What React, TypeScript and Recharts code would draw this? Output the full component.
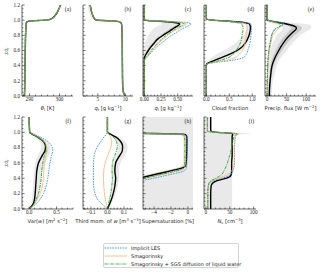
import type { ReactNode } from 'react'
import { ComposedChart, Line, Area, XAxis, YAxis } from 'recharts'

// z / z_i ticks shared by every panel
const zMajor = [0, 0.2, 0.4, 0.6, 0.8, 1.0, 1.2]

// (a) theta_l and (b) q_t
const zAB = [0, 0.03, 0.1, 0.2, 0.4, 0.6, 0.8, 0.9, 0.95, 0.97, 0.98, 0.99, 0.995, 1.0, 1.01, 1.03, 1.06, 1.1, 1.15, 1.2]
const thlRef = [288.3, 288.35, 288.4, 288.45, 288.5, 288.6, 288.7, 288.8, 288.9, 289.0, 289.3, 290.5, 293.0, 295.5, 296.8, 297.8, 298.5, 299.2, 299.8, 300.4]
const thlIles = [288.2, 288.25, 288.3, 288.35, 288.4, 288.5, 288.6, 288.7, 288.8, 288.9, 289.2, 290.2, 292.6, 295.2, 296.7, 297.8, 298.5, 299.2, 299.8, 300.4]
const thlSmag = [288.3, 288.35, 288.4, 288.45, 288.5, 288.6, 288.7, 288.8, 288.9, 289.0, 289.3, 290.4, 292.8, 295.4, 296.8, 297.8, 298.5, 299.2, 299.8, 300.4]
const thlSgs = [288.3, 288.35, 288.4, 288.45, 288.5, 288.6, 288.7, 288.8, 288.9, 289.0, 289.2, 290.3, 292.8, 295.4, 296.8, 297.8, 298.5, 299.2, 299.8, 300.4]

const qtRef = [10.0, 9.75, 9.55, 9.5, 9.47, 9.45, 9.42, 9.38, 9.3, 9.15, 8.8, 7.5, 6.0, 4.9, 4.5, 4.3, 4.1, 3.9, 3.75, 3.6]
const qtIles = [10.05, 9.8, 9.6, 9.55, 9.52, 9.5, 9.47, 9.43, 9.35, 9.2, 8.9, 7.8, 6.3, 5.0, 4.5, 4.3, 4.1, 3.9, 3.75, 3.6]
const qtSmag = [10.0, 9.75, 9.55, 9.5, 9.47, 9.45, 9.42, 9.38, 9.3, 9.15, 8.85, 7.6, 6.1, 4.95, 4.5, 4.3, 4.1, 3.9, 3.75, 3.6]
const qtSgs = [10.0, 9.75, 9.55, 9.5, 9.47, 9.45, 9.42, 9.38, 9.3, 9.15, 8.85, 7.6, 6.1, 4.95, 4.5, 4.3, 4.1, 3.9, 3.75, 3.6]
const qtShadeLo = [10.0, 9.75, 9.55, 9.5, 9.47, 9.45, 9.42, 9.38, 9.3, 9.15, 8.8, 7.5, 6.0, 4.8, 4.3, 3.9, 3.6, 3.4, 3.25, 3.15]

// (c) q_l
const zC = [0, 0.45, 0.47, 0.5, 0.55, 0.6, 0.65, 0.7, 0.75, 0.8, 0.85, 0.9, 0.93, 0.95, 0.97, 0.985, 1.0, 1.2]
const qlRef = [0, 0, 0, 0, 0.025, 0.06, 0.1, 0.15, 0.2, 0.28, 0.37, 0.45, 0.51, 0.53, 0.45, 0.25, 0, 0]
const qlIles = [0, 0, 0, 0.03, 0.08, 0.13, 0.19, 0.26, 0.33, 0.41, 0.5, 0.6, 0.67, 0.7, 0.62, 0.35, 0, 0]
const qlSmag = [0, 0, 0, 0.02, 0.07, 0.11, 0.16, 0.22, 0.28, 0.35, 0.43, 0.53, 0.6, 0.63, 0.56, 0.3, 0, 0]
const qlSgs = [0, 0, 0, 0.015, 0.06, 0.1, 0.15, 0.2, 0.26, 0.33, 0.41, 0.5, 0.57, 0.6, 0.5, 0.28, 0, 0]
const qlLightLo = [0, 0, 0, 0, 0, 0, 0, 0.01, 0.03, 0.06, 0.1, 0.16, 0.22, 0.26, 0.22, 0.1, 0, 0]
const qlLightHi = [0, 0, 0, 0.01, 0.04, 0.08, 0.12, 0.17, 0.23, 0.31, 0.4, 0.48, 0.54, 0.56, 0.48, 0.3, 0, 0]
const qlDarkLo = [0, 0, 0, 0, 0.01, 0.04, 0.075, 0.12, 0.165, 0.24, 0.32, 0.4, 0.46, 0.49, 0.4, 0.2, 0, 0]
const qlDarkHi = [0, 0, 0, 0.005, 0.035, 0.075, 0.115, 0.165, 0.215, 0.3, 0.39, 0.47, 0.53, 0.55, 0.47, 0.28, 0, 0]

// (d) cloud fraction
const zD = [0, 0.38, 0.41, 0.43, 0.45, 0.47, 0.5, 0.55, 0.6, 0.65, 0.7, 0.8, 0.9, 0.95, 0.98, 1.0, 1.02, 1.2]
const cfRef = [0, 0, 0, 0.03, 0.1, 0.18, 0.3, 0.5, 0.67, 0.78, 0.85, 0.93, 0.96, 0.94, 0.65, 0.15, 0, 0]
const cfIles = [0, 0, 0, 0.06, 0.3, 0.55, 0.78, 0.87, 0.9, 0.93, 0.95, 0.97, 0.98, 0.96, 0.65, 0.15, 0, 0]
const cfSmag = [0, 0, 0, 0.05, 0.22, 0.42, 0.6, 0.72, 0.79, 0.82, 0.84, 0.87, 0.89, 0.86, 0.55, 0.12, 0, 0]
const cfSgs = [0, 0, 0, 0.04, 0.16, 0.3, 0.46, 0.58, 0.65, 0.7, 0.74, 0.78, 0.8, 0.77, 0.5, 0.1, 0, 0]
const cfShadeLo = [0, 0, 0, 0, 0.02, 0.05, 0.1, 0.22, 0.38, 0.52, 0.64, 0.8, 0.88, 0.86, 0.5, 0.08, 0, 0]
const cfShadeHi = [0, 0, 0, 0.06, 0.18, 0.3, 0.45, 0.62, 0.76, 0.85, 0.9, 0.97, 0.99, 0.98, 0.75, 0.22, 0, 0]

// (e) precipitation flux
const zE = [0, 0.1, 0.2, 0.3, 0.4, 0.5, 0.6, 0.7, 0.75, 0.8, 0.85, 0.88, 0.9, 0.93, 0.95, 0.97, 0.99, 1.01, 1.2]
const pfRef = [6, 6.5, 8, 10, 13, 20, 30, 42, 49, 58, 68, 74, 75, 65, 50, 28, 8, 0, 0]
const pfIles = [0.5, 0.7, 1, 1.5, 2, 3, 5, 8, 10, 12, 16, 20, 26, 37, 43, 35, 10, 0, 0]
const pfSmag = [0.5, 0.7, 1, 1.5, 2.5, 4, 6, 10, 12, 15, 22, 28, 31, 33, 30, 22, 7, 0, 0]
const pfSgs = [0.5, 0.7, 1, 1.5, 2, 3, 5, 8, 10, 12, 16, 21, 27, 37, 42, 34, 10, 0, 0]
const pfLightLo = [2, 2, 2.5, 3, 3, 5, 8, 15, 20, 25, 35, 40, 40, 30, 20, 5, 0, 0, 0]
const pfLightHi = [12, 13, 15, 20, 25, 35, 50, 65, 75, 85, 100, 110, 113, 112, 100, 60, 20, 0, 0]
const pfDarkLo = [4, 4.5, 5.5, 7, 9, 14, 22, 32, 38, 46, 55, 60, 61, 52, 38, 18, 4, 0, 0]
const pfDarkHi = [8, 8.5, 10.5, 13, 17, 26, 38, 52, 60, 70, 82, 88, 89, 80, 64, 40, 12, 0, 0]

// (f) Var(w) and (g) third moment of w
const zFG = [0, 0.05, 0.1, 0.2, 0.3, 0.4, 0.5, 0.6, 0.7, 0.76, 0.82, 0.88, 0.94, 0.98, 1.0, 1.2]
const vwRef = [0, 0.06, 0.09, 0.11, 0.12, 0.13, 0.14, 0.17, 0.24, 0.29, 0.3, 0.26, 0.15, 0.05, 0.01, 0]
const vwIles = [0, 0.1, 0.17, 0.26, 0.31, 0.34, 0.36, 0.38, 0.41, 0.43, 0.41, 0.34, 0.2, 0.07, 0.01, 0]
const vwSmag = [0, 0.08, 0.13, 0.2, 0.24, 0.26, 0.27, 0.28, 0.31, 0.33, 0.32, 0.27, 0.16, 0.06, 0.01, 0]
const vwSgs = [0, 0.07, 0.11, 0.17, 0.2, 0.22, 0.23, 0.25, 0.28, 0.31, 0.3, 0.25, 0.14, 0.05, 0.01, 0]
const vwShadeLo = [0, 0.03, 0.05, 0.06, 0.07, 0.08, 0.09, 0.11, 0.16, 0.2, 0.22, 0.19, 0.1, 0.03, 0, 0]
const vwShadeHi = [0, 0.1, 0.14, 0.18, 0.2, 0.22, 0.25, 0.3, 0.36, 0.39, 0.38, 0.33, 0.2, 0.08, 0.01, 0]

const w3Ref = [0, 0.01, 0.02, 0.035, 0.045, 0.05, 0.045, 0.05, 0.075, 0.09, 0.092, 0.08, 0.05, 0.015, 0, 0]
const w3Iles = [0, -0.025, -0.05, -0.075, -0.083, -0.085, -0.085, -0.084, -0.08, -0.072, -0.058, -0.04, -0.02, -0.005, 0, 0]
const w3Smag = [0, -0.005, -0.01, -0.018, -0.022, -0.024, -0.022, -0.014, 0.002, 0.013, 0.023, 0.025, 0.018, 0.005, 0, 0]
const w3Sgs = [0, 0.005, 0.01, 0.02, 0.026, 0.03, 0.028, 0.03, 0.045, 0.055, 0.06, 0.055, 0.035, 0.01, 0, 0]
const w3ShadeLo = [0, 0.003, 0.008, 0.018, 0.025, 0.028, 0.025, 0.03, 0.05, 0.062, 0.065, 0.055, 0.03, 0.008, 0, 0]
const w3ShadeHi = [0, 0.018, 0.032, 0.05, 0.062, 0.07, 0.07, 0.08, 0.105, 0.12, 0.122, 0.108, 0.07, 0.022, 0, 0]

// (h) supersaturation (values past the left edge are clipped)
const zH = [0, 0.3, 0.34, 0.36, 0.38, 0.4, 0.42, 0.44, 0.46, 0.48, 0.5, 0.52, 0.54, 0.56, 0.6, 0.7, 0.8, 0.9, 0.95, 0.97, 0.975, 0.98, 0.985, 0.99, 1.0, 1.2]
const ssRef = [-9, -9, -9, -8.3, -7.5, -6.2, -5.0, -4.25, -3.5, -2.7, -1.95, -1.2, -0.55, -0.28, -0.2, -0.15, -0.13, -0.12, -0.15, -0.3, -0.6, -1.5, -4, -9, -9, -9]
const ssIles = [-9, -9, -7.6, -6.2, -5.0, -4.1, -3.3, -2.5, -1.7, -0.9, -0.4, -0.22, -0.17, -0.15, -0.13, -0.12, -0.12, -0.12, -0.15, -0.5, -1.5, -4, -9, -9, -9, -9]
const ssSmag = [-9, -9, -8.5, -7.2, -6.0, -5.1, -4.3, -3.5, -2.7, -1.9, -1.15, -0.6, -0.4, -0.35, -0.32, -0.3, -0.3, -0.3, -0.33, -0.5, -0.9, -2.2, -5, -9, -9, -9]
const ssSgs = [-9, -9, -8.7, -7.4, -6.2, -5.2, -4.4, -3.6, -2.8, -2.0, -1.25, -0.7, -0.45, -0.4, -0.38, -0.36, -0.36, -0.37, -0.45, -0.7, -1.2, -3, -7, -9, -9, -9]
const ssShadeLo = [-9, -9, -9, -9, -9, -7.5, -6.0, -5.2, -4.4, -3.6, -2.8, -2.0, -1.3, -0.8, -0.6, -0.55, -0.55, -0.55, -0.6, -0.9, -9, -9, -9, -9, -9, -9]
const ssShadeHi = [0.6, 0.6, 0.6, 0.6, 0.6, 0.6, 0.6, 0.6, 0.6, 0.6, 0.6, 0.6, 0.6, 0.6, 0.6, 0.6, 0.6, 0.6, 0.6, 0.6, 0.6, 0.6, 0.6, 0.6, 0.6, 0.6]
const ssShadowLo = [-9, -9, -9, -8.3, -7.5, -6.9, -5.9, -5.1, -4.3, -3.5, -2.7, -1.9, -1.1, -0.6, -0.35, -0.15, -0.13, -0.12, -0.15, -0.3, -0.6, -1.5, -4, -9, -9, -9]

// (i) droplet number
const zI = [0, 0.2, 0.3, 0.33, 0.36, 0.38, 0.4, 0.42, 0.45, 0.5, 0.55, 0.6, 0.7, 0.8, 0.9, 0.95, 0.97, 0.98, 0.99, 1.0, 1.01, 1.03, 1.2]
const ncRef = [10, 10, 11, 13, 20, 30, 42, 50, 53, 54, 54, 54, 55, 55, 55, 55, 56, 56, 50, 25, 12, 10, 10]
const ncIles = [4, 4, 5, 7, 12, 20, 32, 43, 52, 57, 59, 60, 60, 60, 61, 62, 66, 68, 55, 25, 5, 3, 3]
const ncSmag = [4, 4, 5, 6, 10, 16, 25, 35, 46, 54, 58, 59, 59, 59, 60, 61, 65, 67, 55, 25, 5, 3, 3]
const ncSgs = [4, 4, 5, 6, 9, 14, 20, 26, 33, 38, 42, 45, 50, 54, 57, 59, 63, 65, 52, 22, 4, 3, 3]
const ncShadeLo = [-4, -4, -4, -4, -4, -4, -4, -4, -4, -4, -4, -4, -4, -4, -4, -4, -4, -4, -4, -4, -4, -4, -4]
const ncShadeHi = [55, 55, 55, 55, 55, 55, 55, 55, 55, 55, 55, 55, 56, 56, 56, 57, 70, 94, 80, 40, 15, 12, 12]

const COL_LEFT = [22, 83, 143, 204, 265]
const COL_W = [51, 50, 50, 52, 51]
const ROW_TOP = [5, 117]
const ROW_H = [91, 92]

const LIGHT = '#e9e9e9'
const DARK = '#c9c9c9'
const SERIF = '"Liberation Serif", "DejaVu Serif", serif'
const SANS = '"DejaVu Sans", sans-serif'

const SERIES = [
  { key: 'ref', stroke: '#000000', width: 1.4, dash: undefined as string | undefined, name: '' },
  { key: 'iles', stroke: '#3b8fd5', width: 0.9, dash: '1.6 1', name: 'Implicit LES' },
  { key: 'smag', stroke: '#f7b27c', width: 0.8, dash: undefined, name: 'Smagorinsky' },
  { key: 'sgs', stroke: '#2ca02c', width: 0.9, dash: '3 1 1 1', name: 'Smagorinsky + SGS diffusion of liquid water' },
]

interface Band { lo: number[]; hi: number[]; fill: string }
interface PanelSpec {
  letter: string
  col: number
  row: number
  domain: [number, number]
  major: number[]
  minorStep: number
  fmt: (v: number) => string
  z: number[]
  ref: number[]
  iles: number[]
  smag: number[]
  sgs: number[]
  bands: Band[]
  label: ReactNode
  yLabels?: boolean
}

const steps = (lo: number, hi: number, step: number) => {
  const out: number[] = []
  for (let k = Math.ceil(lo / step - 1e-9); k * step <= hi + 1e-9; k++) out.push(Math.round(k * step * 1e6) / 1e6)
  return out
}
const sign = (v: number, s: string) => (v < -1e-9 ? '\u2212' : '') + s
const fmt0 = (v: number) => sign(v, String(Math.abs(v)))
const fmt1 = (v: number) => sign(v, Math.abs(v).toFixed(1))
const fmt2 = (v: number) => sign(v, Math.abs(v).toFixed(2))

const Sub = ({ children }: { children: ReactNode }) => (
  <span style={{ fontSize: '0.72em', position: 'relative', top: '0.3em' }}>{children}</span>
)
const Sup = ({ children }: { children: ReactNode }) => (
  <span style={{ fontSize: '0.72em', position: 'relative', top: '-0.4em' }}>{children}</span>
)

const PANELS: PanelSpec[] = [
  { letter: 'a', col: 0, row: 0, domain: [287.5, 304.5], major: [290, 300], minorStep: 2, fmt: fmt0, z: zAB, ref: thlRef, iles: thlIles, smag: thlSmag, sgs: thlSgs, bands: [], label: <><i>θ</i><Sub>l</Sub> [K]</>, yLabels: true },
  { letter: 'b', col: 1, row: 0, domain: [2.3, 11.4], major: [5, 10], minorStep: 1, fmt: fmt0, z: zAB, ref: qtRef, iles: qtIles, smag: qtSmag, sgs: qtSgs, bands: [{ lo: qtShadeLo, hi: qtRef, fill: LIGHT }], label: <><i>q</i><Sub>t</Sub> [g kg<Sup>−1</Sup>]</> },
  { letter: 'c', col: 2, row: 0, domain: [-0.02, 0.73], major: [0, 0.25, 0.5], minorStep: 0.05, fmt: fmt2, z: zC, ref: qlRef, iles: qlIles, smag: qlSmag, sgs: qlSgs, bands: [{ lo: qlLightLo, hi: qlLightHi, fill: LIGHT }, { lo: qlDarkLo, hi: qlDarkHi, fill: DARK }], label: <><i>q</i><Sub>l</Sub> [g kg<Sup>−1</Sup>]</> },
  { letter: 'd', col: 3, row: 0, domain: [-0.05, 1.08], major: [0, 0.5, 1], minorStep: 0.1, fmt: fmt1, z: zD, ref: cfRef, iles: cfIles, smag: cfSmag, sgs: cfSgs, bands: [{ lo: cfShadeLo, hi: cfShadeHi, fill: LIGHT }], label: <>Cloud fraction</> },
  { letter: 'e', col: 4, row: 0, domain: [-5, 125], major: [0, 50, 100], minorStep: 10, fmt: fmt0, z: zE, ref: pfRef, iles: pfIles, smag: pfSmag, sgs: pfSgs, bands: [{ lo: pfLightLo, hi: pfLightHi, fill: LIGHT }, { lo: pfDarkLo, hi: pfDarkHi, fill: DARK }], label: <>Precip. flux [W m<Sup>−2</Sup>]</> },
  { letter: 'f', col: 0, row: 1, domain: [-0.13, 0.8], major: [0, 0.5], minorStep: 0.1, fmt: fmt1, z: zFG, ref: vwRef, iles: vwIles, smag: vwSmag, sgs: vwSgs, bands: [{ lo: vwShadeLo, hi: vwShadeHi, fill: LIGHT }], label: <>Var(<i>w</i>) [m<Sup>2</Sup> s<Sup>−2</Sup>]</>, yLabels: true },
  { letter: 'g', col: 1, row: 1, domain: [-0.148, 0.155], major: [-0.1, 0, 0.1], minorStep: 0.02, fmt: fmt1, z: zFG, ref: w3Ref, iles: w3Iles, smag: w3Smag, sgs: w3Sgs, bands: [{ lo: w3ShadeLo, hi: w3ShadeHi, fill: LIGHT }], label: <>Third mom. of <i>w</i> [m<Sup>3</Sup> s<Sup>−3</Sup>]</> },
  { letter: 'h', col: 2, row: 1, domain: [-5.3, 0.6], major: [-4, -2, 0], minorStep: 0.5, fmt: fmt0, z: zH, ref: ssRef, iles: ssIles, smag: ssSmag, sgs: ssSgs, bands: [{ lo: ssShadeLo, hi: ssShadeHi, fill: LIGHT }, { lo: ssShadowLo, hi: ssRef, fill: '#d6d6d6' }], label: <>Supersaturation [%]</> },
  { letter: 'i', col: 3, row: 1, domain: [-4, 105], major: [0, 50, 100], minorStep: 10, fmt: fmt0, z: zI, ref: ncRef, iles: ncIles, smag: ncSmag, sgs: ncSgs, bands: [{ lo: ncShadeLo, hi: ncShadeHi, fill: LIGHT }], label: <><i>N</i><Sub>c</Sub> [cm<Sup>−3</Sup>]</> },
]

const isMajor = (v: number, majors: number[]) => majors.some(m => Math.abs(m - v) < 1e-6)

// inward mpl-style ticks drawn by hand, labels only on majors
function makeTick(side: 'bottom' | 'top' | 'left' | 'right', majors: number[], fmt: ((v: number) => string) | null) {
  return (props: any) => {
    const { x, y, payload } = props
    const v = payload.value as number
    const major = isMajor(v, majors)
    const len = major ? 2.6 : 1.4
    let x2 = x
    let y2 = y
    if (side === 'bottom') y2 = y - len
    else if (side === 'top') y2 = y + len
    else if (side === 'left') x2 = x + len
    else x2 = x - len
    return (
      <g>
        <line x1={x} y1={y} x2={x2} y2={y2} stroke="#222" strokeWidth={0.6} />
        {fmt && major && side === 'bottom' && (
          <text x={x} y={y + 5.4} textAnchor="middle" fontSize={5.2} fontFamily={SERIF} fill="#222">{fmt(v)}</text>
        )}
        {fmt && major && side === 'left' && (
          <text x={x - 2} y={y + 1.8} textAnchor="end" fontSize={5.2} fontFamily={SERIF} fill="#222">{fmt(v)}</text>
        )}
      </g>
    )
  }
}

const YW = 20
const MT = 4
const MR = 4
const XH = 12

function Panel({ p }: { p: PanelSpec }) {
  const left = COL_LEFT[p.col]
  const w = COL_W[p.col]
  const top = ROW_TOP[p.row]
  const h = ROW_H[p.row]
  const rows = p.z.map((z, i) => {
    const r: Record<string, any> = { z, ref: p.ref[i], iles: p.iles[i], smag: p.smag[i], sgs: p.sgs[i] }
    p.bands.forEach((b, k) => { r['b' + k] = [b.lo[i], b.hi[i]] })
    return r
  })
  const xTicks = steps(p.domain[0], p.domain[1], p.minorStep)
  const zTicks = steps(0, 1.2, 0.05)
  const axisLine = { stroke: '#222', strokeWidth: 0.7 }
  return (
    <>
      <div style={{ position: 'absolute', left: left - YW, top: top - MT }}>
        <ComposedChart layout="vertical" width={YW + w + MR} height={MT + h + XH} data={rows} margin={{ top: MT, right: MR, bottom: 0, left: 0 }}>
          <XAxis type="number" domain={p.domain} allowDataOverflow ticks={xTicks} interval={0} height={XH} tickSize={0} tickMargin={0} tickLine={false} axisLine={axisLine} tick={makeTick('bottom', p.major, p.fmt)} />
          <XAxis xAxisId="top" orientation="top" type="number" domain={p.domain} allowDataOverflow ticks={xTicks} interval={0} height={0} tickSize={0} tickMargin={0} tickLine={false} axisLine={axisLine} tick={makeTick('top', p.major, null)} />
          <YAxis type="number" dataKey="z" domain={[0, 1.2]} allowDataOverflow reversed ticks={zTicks} interval={0} width={YW} tickSize={0} tickMargin={0} tickLine={false} axisLine={axisLine} tick={makeTick('left', zMajor, p.yLabels ? fmt1 : null)} />
          <YAxis yAxisId="right" orientation="right" type="number" dataKey="z" domain={[0, 1.2]} allowDataOverflow reversed ticks={zTicks} interval={0} width={0} tickSize={0} tickMargin={0} tickLine={false} axisLine={axisLine} tick={makeTick('right', zMajor, null)} />
          {p.bands.map((b, k) => (
            <Area key={'b' + k} dataKey={'b' + k} type="monotone" stroke="none" fill={b.fill} fillOpacity={1} isAnimationActive={false} dot={false} activeDot={false} />
          ))}
          {SERIES.map(s => (
            <Line key={s.key} dataKey={s.key} type="monotone" stroke={s.stroke} strokeWidth={s.width} strokeDasharray={s.dash} dot={false} activeDot={false} isAnimationActive={false} />
          ))}
        </ComposedChart>
      </div>
      <div style={{ position: 'absolute', left: left + w - 2, top: top + 2, transform: 'translateX(-100%)', fontSize: 5.5, fontFamily: SERIF, color: '#222', lineHeight: 1 }}>
        ({p.letter})
      </div>
      <div style={{ position: 'absolute', left: left + w / 2, top: top + h + 9.5, transform: 'translateX(-50%)', fontSize: 5.2, fontFamily: SANS, color: '#222', whiteSpace: 'nowrap', lineHeight: 1 }}>
        {p.label}
      </div>
    </>
  )
}

function LegendBox() {
  const items = SERIES.slice(1)
  return (
    <div style={{ position: 'absolute', left: 102.5, top: 242.5, width: 136, height: 25.5, border: '0.8px solid #d4d4d4', borderRadius: 2, background: '#fff', boxSizing: 'border-box' }}>
      {items.map((s, i) => (
        <div key={s.key} style={{ position: 'absolute', left: 0, top: 0.3 + i * 8, height: 8, display: 'flex', alignItems: 'center' }}>
          <svg width={24} height={8} style={{ display: 'block' }}>
            <line x1={0.5} x2={23} y1={4} y2={4} stroke={s.stroke} strokeWidth={s.width} strokeDasharray={s.dash} />
          </svg>
          <span style={{ marginLeft: 3.5, fontSize: 5, fontFamily: SANS, color: '#222', whiteSpace: 'nowrap', lineHeight: '8px' }}>{s.name}</span>
        </div>
      ))}
    </div>
  )
}

export default function App() {
  return (
    <div style={{ position: 'absolute', left: 0, top: 0, width: 320, height: 272, background: '#fff', overflow: 'hidden' }}>
      {PANELS.map(p => <Panel key={p.letter} p={p} />)}
      {ROW_TOP.map((t, r) => (
        <div key={r} style={{ position: 'absolute', left: 7, top: t + ROW_H[r] / 2, transform: 'translate(-50%, -50%) rotate(-90deg)', fontSize: 5.5, fontFamily: SERIF, fontStyle: 'italic', color: '#222', whiteSpace: 'nowrap', lineHeight: 1 }}>
          z/z<Sub>i</Sub>
        </div>
      ))}
      <LegendBox />
    </div>
  )
}
